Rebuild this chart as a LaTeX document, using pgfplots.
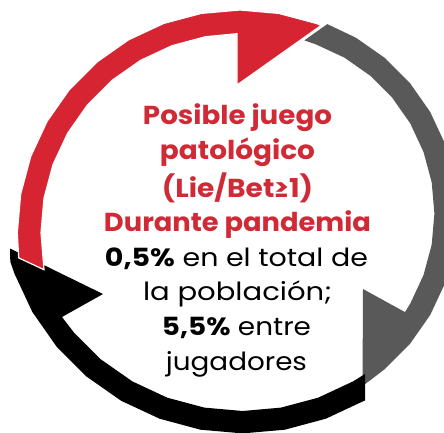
\documentclass[border=0pt]{standalone}
\usepackage{pgfplots}
\pgfplotsset{compat=1.18}
\usepackage{graphicx}
\usepackage{fontspec}
\setmainfont{Poppins}
\definecolor{redL}{RGB}{214,36,50}
\definecolor{redD}{RGB}{172,26,39}
\definecolor{redT}{RGB}{208,42,55}
\definecolor{grayA}{RGB}{89,89,89}
\newcommand{\fit}[2]{\resizebox{#1pt}{\height}{#2}}
\begin{document}
\begin{tikzpicture}
\path[use as bounding box] (0,0) rectangle (444pt,432pt);
\begin{axis}[at={(0,0)}, anchor=south west, width=444pt, height=432pt, scale only axis,
  xmin=0, xmax=444, ymin=0, ymax=432, y dir=reverse, hide axis]
% grey arrow
\addplot[draw=none, fill=grayA, mark=none] coordinates {
(327.3,24.1) (355.9,37.7) (384.9,58) (409.9,83) (430.2,112) (445.2,144.1) (454.3,178.3)
(457.4,213.5) (454.3,248.7) (445.2,282.9) (430.2,315) (409.9,344) (384.9,369) (370.8,379.8)
(362.5,386) (363,289) (405,312.1) (410.3,303.5) (423.5,275.1) (431.7,244.7) (434.4,213.5)
(431.7,182.3) (423.5,151.9) (410.3,123.5) (392.3,97.8) (370.1,75.6) (344.4,57.6) (316,44.4)
(304.3,40.4)} -- cycle;
% black arrow
\addplot[draw=none, fill=black, mark=none] coordinates {
(365,400.4) (325.8,418.7) (284.9,429.7) (242.7,433.4) (200.5,429.7) (159.6,418.7)
(121.2,400.8) (86.5,376.5) (56.6,346.6) (32.3,311.9) (14.4,273.5) (10.3,261.5) (10,248.5)
(103,294) (62,317) (73.7,332.2) (100.9,359.4) (132.4,381.4) (167.3,397.7) (204.4,407.6)
(242.7,411) (281,407.6) (318.1,397.7) (353,381.4) (365,374)} -- cycle;
% red arrow
\addplot[draw=white, line width=1.2pt, top color=redL, middle color=redD, bottom color=redL,
  shading angle=-52, mark=none] coordinates {
(18.7,257.9) (17.3,232.7) (20.7,194) (30.7,156.5) (47.1,121.3) (69.4,89.5) (96.8,62.1)
(128.6,39.8) (163.8,23.4) (201.3,13.4) (240,10) (278.7,13.4) (316.2,23.4) (321.3,25.3)
(237,85) (236.9,33.7) (205.5,36.7) (171.9,45.7) (140.5,60.4) (112.1,80.3) (87.6,104.8)
(67.7,133.2) (53,164.6) (44,198.2) (41,232.7) (44,269.7)} -- cycle;
% text
\begin{scope}[every node/.style={anchor=base, inner sep=0pt}]
\node[text=redT, font=\fontsize{26}{26}\selectfont\bfseries] at (axis cs:237.5,124) {\fit{189}{Posible juego}};
\node[text=redT, font=\fontsize{26}{26}\selectfont\bfseries] at (axis cs:237.5,159) {\fit{155}{patológico}};
\node[text=redT, font=\fontsize{26}{26}\selectfont\bfseries] at (axis cs:237.5,197) {\fit{151}{(Lie/Bet≥1)}};
\node[text=redT, font=\fontsize{26}{26}\selectfont\bfseries] at (axis cs:237.5,231) {\fit{267}{Durante pandemia}};
\node[text=black, font=\fontsize{25}{25}\selectfont] at (axis cs:236.5,266) {\fit{263}{\textbf{0,5\%} en el total de}};
\node[text=black, font=\fontsize{25}{25}\selectfont] at (axis cs:237.5,300) {\fit{189}{la población;}};
\node[text=black, font=\fontsize{25}{25}\selectfont] at (axis cs:236.5,335) {\fit{149}{\textbf{5,5\%} entre}};
\node[text=black, font=\fontsize{25}{25}\selectfont] at (axis cs:236.5,370) {\fit{141}{jugadores}};
\end{scope}
\end{axis}
\end{tikzpicture}
\end{document}
